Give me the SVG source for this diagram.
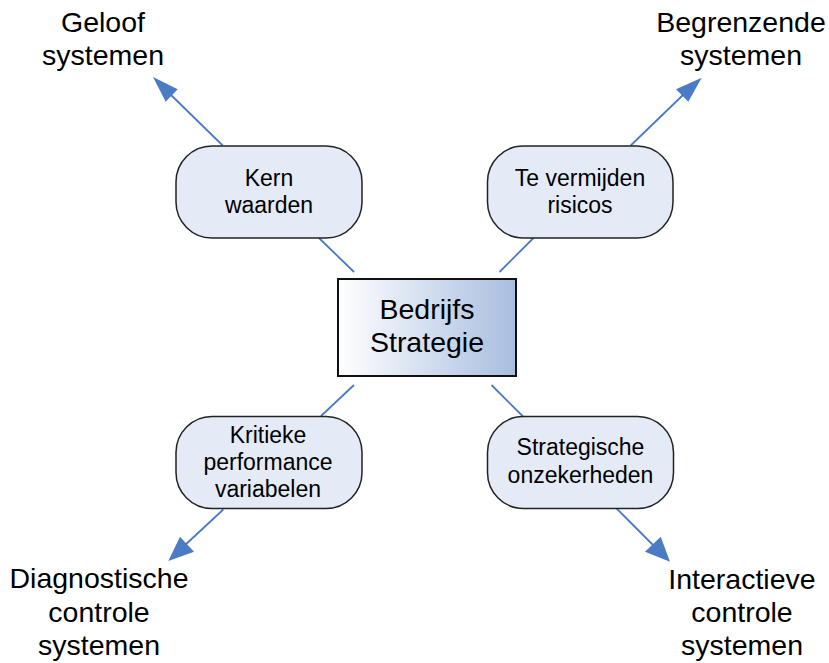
<svg xmlns="http://www.w3.org/2000/svg" width="829" height="663" viewBox="0 0 829 663">
<defs>
<style>
.pill{fill:#e5ebf6;stroke:#222;stroke-width:1.5}
.box{fill:url(#g);stroke:#111;stroke-width:2}
.ln{stroke:#4a7bc4;stroke-width:1.8;fill:none}
.ah{fill:#4a7bc4}
text{font-family:"Liberation Sans",Arial,sans-serif;fill:#000;text-anchor:middle}
.pt{font-size:23px}
.ot{font-size:28.5px}
.ct{font-size:28.5px}
</style>
<linearGradient id="g" x1="0" y1="0" x2="1" y2="0">
<stop offset="0" stop-color="#ffffff"/>
<stop offset="1" stop-color="#a8bddf"/>
</linearGradient>
</defs>
<rect width="829" height="663" fill="#fff"/>
<g id="connectors">
<line class="ln" x1="354" y1="272" x2="319" y2="238"/>
<line class="ln" x1="499.5" y1="272" x2="533.5" y2="238"/>
<line class="ln" x1="354" y1="385" x2="321" y2="416"/>
<line class="ln" x1="491.5" y1="385" x2="523" y2="416.5"/>
<line class="ln" x1="222.7" y1="145.5" x2="170" y2="94"/>
<polygon class="ah" points="153,77 165.7,101.7 177.7,89.3"/>
<line class="ln" x1="630.7" y1="145.5" x2="684" y2="94"/>
<polygon class="ah" points="701.7,77.7 676,89.3 688.3,101.7"/>
<line class="ln" x1="223.3" y1="509.5" x2="184" y2="546"/>
<polygon class="ah" points="168.3,561 180,536.7 194,551.7"/>
<line class="ln" x1="616.7" y1="508.5" x2="654" y2="546"/>
<polygon class="ah" points="670,561.7 645,551.7 660.7,536.7"/>
</g>
<g id="strategie">
<rect class="box" x="338" y="279" width="178" height="97"/>
<text class="ct" x="427" y="319">Bedrijfs</text>
<text class="ct" x="427" y="352">Strategie</text>
</g>
<g id="kernwaarden">
<rect class="pill" x="176" y="146" width="186" height="92" rx="36" ry="36"/>
<text class="pt" x="269" y="186">Kern</text>
<text class="pt" x="269" y="213">waarden</text>
</g>
<g id="risicos">
<rect class="pill" x="487.5" y="146" width="185.5" height="92" rx="36" ry="36"/>
<text class="pt" x="580" y="186">Te vermijden</text>
<text class="pt" x="580" y="213">risicos</text>
</g>
<g id="kritieke">
<rect class="pill" x="176" y="416.5" width="186" height="92" rx="36" ry="36"/>
<text class="pt" x="268" y="443">Kritieke</text>
<text class="pt" x="268" y="470">performance</text>
<text class="pt" x="268" y="497">variabelen</text>
</g>
<g id="onzekerheden">
<rect class="pill" x="487.5" y="416.5" width="186" height="92" rx="36" ry="36"/>
<text class="pt" x="580.5" y="455">Strategische</text>
<text class="pt" x="580.5" y="482.5">onzekerheden</text>
</g>
<g id="geloof">
<text class="ot" x="103" y="32">Geloof</text>
<text class="ot" x="103" y="65">systemen</text>
</g>
<g id="begrenzende">
<text class="ot" x="741" y="32">Begrenzende</text>
<text class="ot" x="741" y="65">systemen</text>
</g>
<g id="diagnostische">
<text class="ot" x="99" y="588">Diagnostische</text>
<text class="ot" x="99" y="622">controle</text>
<text class="ot" x="99" y="655">systemen</text>
</g>
<g id="interactieve">
<text class="ot" x="742" y="589">Interactieve</text>
<text class="ot" x="742" y="622">controle</text>
<text class="ot" x="742" y="655">systemen</text>
</g>
</svg>
